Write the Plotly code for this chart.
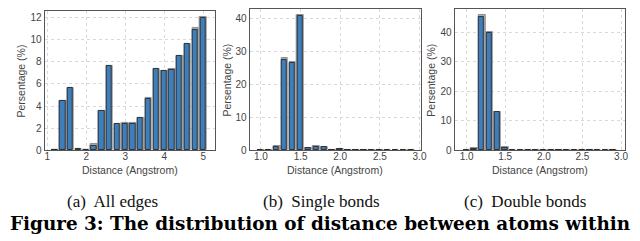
import plotly.graph_objects as go

# ---------------- data ----------------
a_x = [1.2, 1.4, 1.6, 1.8, 2.0, 2.2, 2.4, 2.6, 2.8, 3.0,
       3.2, 3.4, 3.6, 3.8, 4.0, 4.2, 4.4, 4.6, 4.8, 5.0]
a_blue = [0.03, 4.5, 5.68, 0.17, 0.08, 0.38, 3.55, 7.65, 2.35, 2.42,
          2.38, 2.92, 4.65, 7.35, 7.18, 7.28, 8.55, 9.58, 10.9, 12.0]
a_grey = [0.03, 4.5, 5.68, 0.17, 0.08, 0.55, 3.55, 7.65, 2.35, 2.45,
          2.45, 2.92, 4.75, 7.38, 7.2, 7.38, 8.55, 9.6, 11.02, 12.05]

bc_x = [1.0, 1.1, 1.2, 1.3, 1.4, 1.5, 1.6, 1.7, 1.8, 1.9,
        2.0, 2.1, 2.2, 2.3, 2.4, 2.5, 2.6, 2.7, 2.8, 2.9]
b_blue = [0.05, 0.1, 1.0, 27.4, 26.6, 40.7, 0.6, 1.0, 0.9, 0.2,
          0.4, 0.2, 0.1, 0.1, 0.1, 0.1, 0.1, 0.1, 0.1, 0.1]
b_grey = [0.05, 0.1, 1.2, 27.9, 26.8, 41.1, 0.7, 1.3, 1.0, 0.25,
          0.5, 0.25, 0.1, 0.1, 0.1, 0.1, 0.1, 0.1, 0.1, 0.1]
c_blue = [0.05, 0.6, 45.2, 40.0, 13.0, 0.9, 0.2, 0.1, 0.1, 0.1,
          0.1, 0.1, 0.1, 0.1, 0.1, 0.1, 0.1, 0.1, 0.1, 0.1]
c_grey = [0.05, 0.65, 45.9, 40.1, 13.0, 1.0, 0.2, 0.1, 0.1, 0.1,
          0.1, 0.1, 0.1, 0.1, 0.1, 0.1, 0.1, 0.1, 0.1, 0.1]

a_ticks = [1, 2, 3, 4, 5]
bc_ticks = [1.0, 1.5, 2.0, 2.5, 3.0]
bc_ticklabels = ["1.0", "1.5", "2.0", "2.5", "3.0"]

subcaptions = ["(a)  All edges", "(b)  Single bonds", "(c)  Double bonds"]
fig_caption = "Figure 3: The distribution of distance between atoms within"
x_title = "Distance (Angstrom)"
y_title = "Persentage (%)"

# ---------------- figure ----------------
W, H = 640, 241
BLUE = "#3d7ebd"
GREY = "#a8a8a8"

panels = [
    dict(x=a_x, blue=a_blue, grey=a_grey, bin=0.2, xr=[0.93, 5.30], yr=[0, 12.6],
         dom_x=[37, 209], top=3, ytick=2, xt=a_ticks, xtl=[str(t) for t in a_ticks],
         ylab_x=13, cap_x=105),
    dict(x=bc_x, blue=b_blue, grey=b_grey, bin=0.1, xr=[0.858, 3.02], yr=[0, 42.9],
         dom_x=[244, 417], top=1, ytick=10, xt=bc_ticks, xtl=bc_ticklabels,
         ylab_x=221, cap_x=316),
    dict(x=bc_x, blue=c_blue, grey=c_grey, bin=0.1, xr=[0.847, 3.053], yr=[0, 48.0],
         dom_x=[451, 623], top=1, ytick=10, xt=bc_ticks, xtl=bc_ticklabels,
         ylab_x=427, cap_x=522),
]
bottom = 146

fig = go.Figure()
annotations = []
tick_font = dict(family="Liberation Sans, Arial, sans-serif", size=10, color="#444")

for i, p in enumerate(panels):
    n = "" if i == 0 else str(i + 1)
    xa, ya = "x" + n, "y" + n
    b = p["bin"]
    fig.add_trace(go.Bar(
        x=p["x"], y=p["grey"], width=[0.86 * b] * len(p["x"]),
        marker=dict(color=GREY, line=dict(color="#8f8f8f", width=1)),
        xaxis=xa, yaxis=ya, showlegend=False))
    fig.add_trace(go.Bar(
        x=p["x"], y=p["blue"], width=[0.68 * b] * len(p["x"]),
        offset=[-0.40 * b] * len(p["x"]),
        marker=dict(color=BLUE, line=dict(color="#2a2a2a", width=0.9)),
        xaxis=xa, yaxis=ya, showlegend=False))

    dx = [p["dom_x"][0] / W, p["dom_x"][1] / W]
    dy = [1 - bottom / H, 1 - p["top"] / H]
    axcommon = dict(showline=True, mirror=True, linecolor="#555", linewidth=1.3,
                    showgrid=True, gridcolor="#d9d9d9", griddash="dot", gridwidth=1,
                    zeroline=False, ticks="", tickfont=tick_font)
    fig.update_layout(**{
        ("xaxis" + n): dict(domain=dx, range=p["xr"], tickvals=p["xt"], ticktext=p["xtl"],
                            anchor=ya, ticklabelstandoff=-4, **axcommon),
        ("yaxis" + n): dict(domain=dy, range=p["yr"], dtick=p["ytick"], tick0=0,
                            anchor=xa, **axcommon),
    })
    cx = (p["dom_x"][0] + p["dom_x"][1]) / 2
    annotations.append(dict(text=x_title, x=cx / W, y=1 - 166 / H, xref="paper", yref="paper",
                            showarrow=False, xanchor="center", yanchor="middle",
                            font=dict(family="Liberation Sans, Arial, sans-serif", size=10.5, color="#444")))
    annotations.append(dict(text=y_title, x=p["ylab_x"] / W, y=1 - ((p["top"] + bottom) / 2) / H,
                            xref="paper", yref="paper", showarrow=False, textangle=-90,
                            xanchor="center", yanchor="middle",
                            font=dict(family="Liberation Sans, Arial, sans-serif", size=10.5, color="#444")))
    annotations.append(dict(text=subcaptions[i], x=p["cap_x"] / W, y=1 - 198 / H,
                            xref="paper", yref="paper", showarrow=False,
                            xanchor="center", yanchor="middle",
                            font=dict(family="Liberation Serif, serif", size=17, color="#111")))

annotations.append(dict(text="<b>" + fig_caption + "</b>", x=0, y=1 - 221 / H,
                        xref="paper", yref="paper", showarrow=False,
                        xanchor="left", yanchor="middle",
                        font=dict(family="DejaVu Serif, serif", size=18.4, color="#000")))

fig.update_layout(width=W, height=H, margin=dict(l=0, r=0, t=0, b=0),
                  paper_bgcolor="white", plot_bgcolor="white",
                  barmode="overlay", bargap=0, annotations=annotations)

fig.write_html("out.html")
